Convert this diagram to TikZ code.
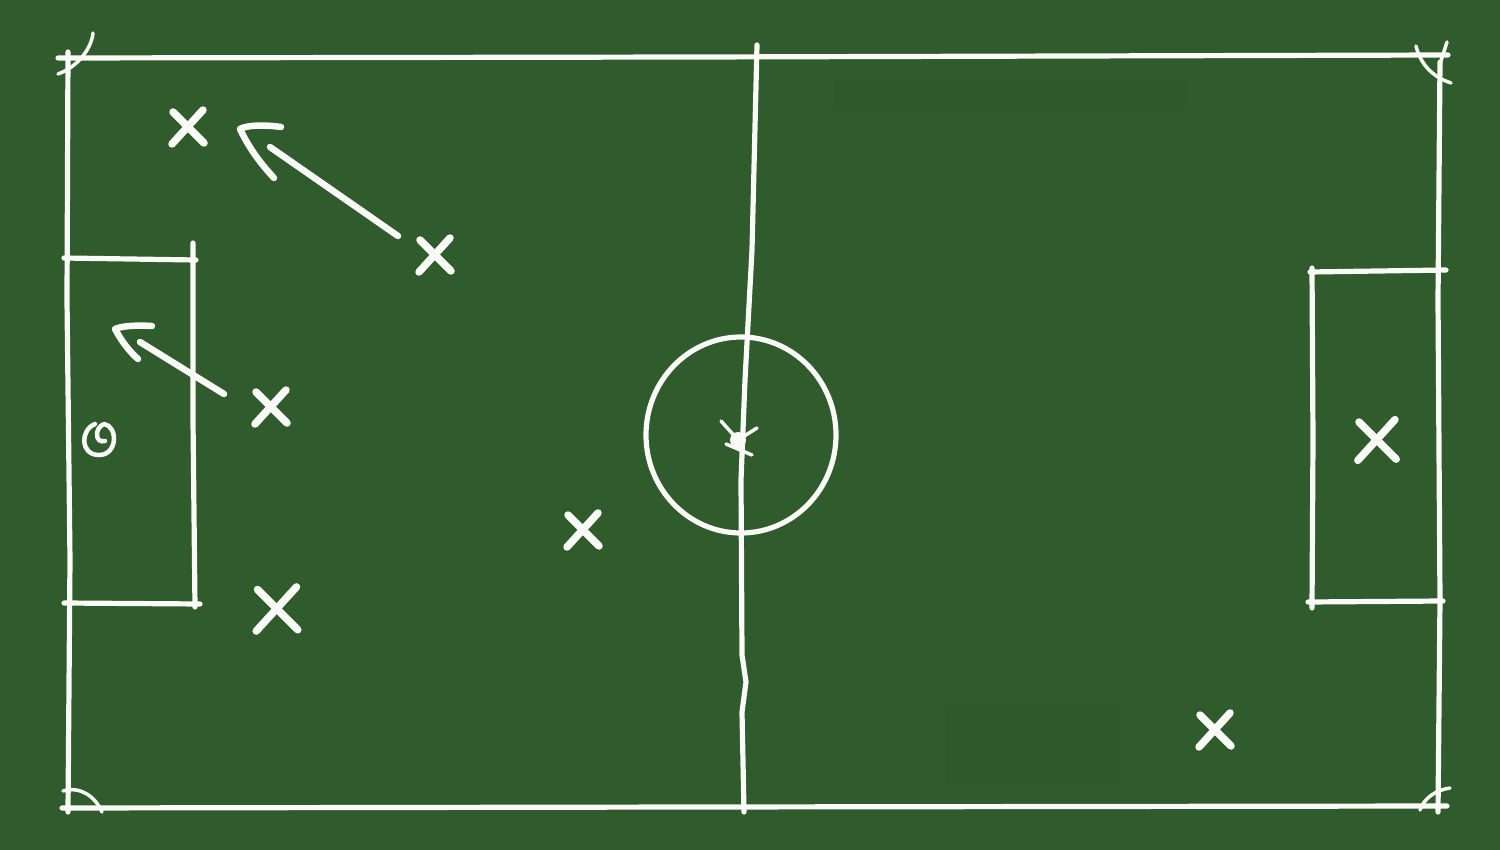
\documentclass[tikz,border=0pt]{standalone}
\usetikzlibrary{calc}
\definecolor{board}{RGB}{47,91,45}
\definecolor{chalkc}{RGB}{250,250,246}
\tikzset{
  chalk/.style={draw=chalkc, line width=5.2pt, line cap=round, line join=round},
  thinchalk/.style={draw=chalkc, line width=3.5pt, line cap=round, line join=round},
  xstroke/.style={draw=chalkc, line width=7.5pt, line cap=round},
  arrowstroke/.style={draw=chalkc, line width=6.5pt, line cap=round, line join=round},
  pics/playerx/.style={code={
    \draw[xstroke] (-15,-15) -- (16,16);
    \draw[xstroke] (-16,17) -- (15,-17);
  }}
}
\begin{document}
\begin{tikzpicture}[x=1pt,y=-1pt]
\useasboundingbox (0,0) rectangle (1500,850);
\fill[board] (0,0) rectangle (1500,850);

% faint erased smudges
\fill[board!94!black, opacity=0.2] (835,78) rectangle (1185,110);
\fill[board!94!black, opacity=0.2] (945,708) rectangle (1120,785);

% outer boundary
\draw[chalk] (58,58) -- (700,57) -- (1448,55);
\draw[chalk] (68,52) -- (67,300) -- (70,560) -- (68,812);
\draw[chalk] (62,808) -- (700,807) -- (1447,806);
\draw[chalk] (1440,62) -- (1438,300) -- (1440,600) -- (1438,812);

% corner arcs
\draw[thinchalk] (58,74) .. controls (80,66) and (92,46) .. (93,33);
\draw[thinchalk] (1416,46) .. controls (1420,62) and (1430,76) .. (1451,83);
\draw[thinchalk] (1447,42) -- (1440,64);
\draw[thinchalk] (63,791) .. controls (80,786) and (95,796) .. (102,812);
\draw[thinchalk] (1420,810) .. controls (1424,798) and (1436,790) .. (1450,788);

% left penalty box
\draw[chalk] (64,258) -- (196,260);
\draw[chalk] (193,243) -- (193,420) -- (195,607);
\draw[chalk] (64,603) -- (200,604);

% right penalty box
\draw[chalk] (1312,268) -- (1313,440) -- (1312,608);
\draw[chalk] (1310,272) -- (1446,270);
\draw[chalk] (1308,602) -- (1443,601);

% halfway line
\draw[chalk] (757,45) -- (752,250) -- (745,380) -- (741,480) -- (742,655)
  -- (746,682) -- (742,712) -- (744,812);

% centre circle
\draw[chalk] (741,435) ellipse [x radius=95, y radius=98];
% centre spot
\fill[chalkc] (738,440) circle [radius=8];
\draw[thinchalk] (721,421) -- (738,440) -- (757,428);
\draw[thinchalk] (726,444) -- (752,455);

% ball
\draw[chalk, line width=4.5pt] (95,424) .. controls (80,430) and (80,455) .. (99,455)
  .. controls (118,455) and (118,426) .. (104,424)
  .. controls (94,428) and (95,444) .. (105,441);

% arrows
\draw[arrowstroke] (398,236) -- (270,147);
\draw[arrowstroke] (281,127) .. controls (260,124) and (245,126) .. (240,129)
  .. controls (250,150) and (262,165) .. (274,178);
\draw[arrowstroke] (224,394) -- (140,342);
\draw[arrowstroke] (152,326) .. controls (135,325) and (122,326) .. (115,329)
  .. controls (122,342) and (130,352) .. (138,359);

% players
\pic at (188,127) {playerx};
\pic at (435,255) {playerx};
\pic at (271,407) {playerx};
\pic[scale=1.3] at (277,609) {playerx};
\pic at (583,530) {playerx};
\pic[scale=1.2] at (1377,440) {playerx};
\pic at (1215,730) {playerx};
\end{tikzpicture}
\end{document}
